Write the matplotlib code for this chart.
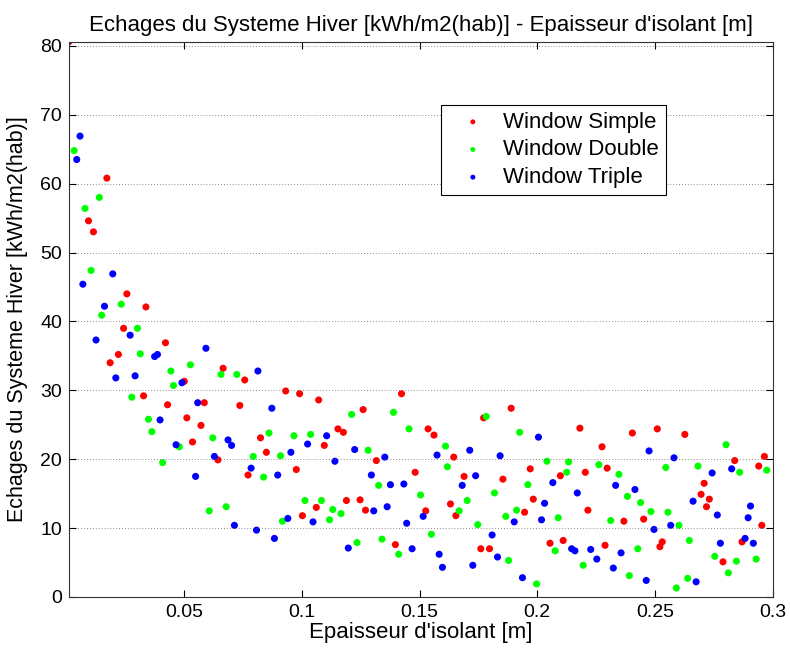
import numpy as np
import matplotlib.pyplot as plt

plt.rcParams['font.family'] = ['Liberation Sans', 'DejaVu Sans']

# Window Simple
simple_x = [0.001, 0.0171, 0.0093, 0.0114, 0.0256, 0.0337, 0.0242, 0.0420, 0.0220, 0.0185,
            0.0665, 0.0757, 0.0500, 0.0327, 0.0429, 0.0585, 0.0736, 0.0511, 0.0571, 0.0824,
            0.0535, 0.0643, 0.0771, 0.0931, 0.0990, 0.1071, 0.1423, 0.1260, 0.1153, 0.1176,
            0.1536, 0.1095, 0.0849, 0.1316, 0.0976, 0.1481, 0.1189, 0.1247, 0.1061, 0.1270,
            0.1002, 0.1526, 0.1397, 0.1889, 0.1772, 0.2181, 0.1561, 0.2275, 0.1645, 0.2297,
            0.1970, 0.1689, 0.2098, 0.2204, 0.1854, 0.1983, 0.1631, 0.1654, 0.1946, 0.2215,
            0.1760, 0.1797, 0.2054, 0.2110, 0.2288, 0.2404, 0.2510, 0.2627, 0.2839, 0.2965,
            0.2941, 0.2709, 0.2696, 0.2731, 0.2719, 0.2368, 0.2452, 0.2954, 0.2531, 0.2521,
            0.2870, 0.2789]
simple_y = [80.6, 60.8, 54.6, 53.0, 44.0, 42.1, 39.0, 36.9, 35.2, 34.0,
            33.2, 31.5, 31.3, 29.2, 27.9, 28.2, 27.8, 26.0, 24.9, 23.1,
            22.5, 19.9, 17.7, 29.9, 29.5, 28.6, 29.5, 27.2, 24.4, 23.9,
            24.4, 22.0, 21.0, 19.8, 18.5, 18.1, 14.0, 14.1, 13.0, 12.6,
            11.8, 12.5, 7.6, 27.4, 26.0, 24.5, 23.5, 21.8, 20.3, 18.7,
            18.6, 17.5, 17.6, 18.1, 17.1, 14.2, 13.5, 11.8, 12.3, 12.6,
            7.0, 7.0, 7.8, 8.2, 7.5, 23.8, 24.4, 23.6, 19.8, 20.4,
            19.0, 16.5, 14.9, 14.2, 13.1, 11.0, 11.3, 10.4, 8.0, 7.3,
            8.0, 5.1]

# Window Double
double_x = [0.0032, 0.0139, 0.0078, 0.0104, 0.0232, 0.0149, 0.0301, 0.0313, 0.0526, 0.0443,
            0.0656, 0.0723, 0.0454, 0.0277, 0.0348, 0.0362, 0.0621, 0.0479, 0.0793, 0.0408,
            0.0606, 0.0678, 0.1211, 0.1389, 0.1455, 0.0860, 0.0966, 0.1037, 0.0909, 0.1281,
            0.0837, 0.1326, 0.1504, 0.1013, 0.1083, 0.1131, 0.1166, 0.0917, 0.1117, 0.1550,
            0.1234, 0.1340, 0.1411, 0.1783, 0.1925, 0.1610, 0.1618, 0.2041, 0.2133, 0.2262,
            0.2125, 0.1960, 0.1818, 0.1702, 0.1668, 0.1866, 0.1912, 0.2089, 0.1747, 0.1878,
            0.1997, 0.2076, 0.2195, 0.2802, 0.2546, 0.2683, 0.2860, 0.2975, 0.2347, 0.2383,
            0.2439, 0.2483, 0.2555, 0.2312, 0.2602, 0.2646, 0.2427, 0.2391, 0.2591, 0.2639,
            0.2754, 0.2846, 0.2812, 0.2930]
double_y = [64.8, 58.0, 56.4, 47.4, 42.5, 40.9, 39.0, 35.3, 33.7, 32.8,
            32.3, 32.3, 30.7, 29.0, 25.8, 24.0, 23.1, 21.8, 20.4, 19.5,
            12.5, 13.1, 26.5, 26.8, 24.4, 23.8, 23.4, 23.6, 20.5, 21.3,
            17.4, 16.2, 14.8, 14.0, 14.0, 12.7, 12.1, 11.0, 11.2, 9.1,
            7.9, 8.4, 6.2, 26.2, 23.9, 21.9, 18.9, 19.7, 19.6, 19.2,
            18.1, 16.3, 15.1, 14.0, 12.5, 11.7, 12.6, 11.5, 10.5, 5.3,
            1.9, 6.7, 4.6, 22.1, 18.8, 19.0, 18.1, 18.4, 17.8, 14.6,
            13.7, 12.4, 12.3, 11.1, 10.4, 8.2, 7.0, 3.1, 1.3, 2.7,
            5.9, 5.2, 3.5, 5.5]

# Window Triple
triple_x = [0.0057, 0.0043, 0.0196, 0.0069, 0.0161, 0.0270, 0.0125, 0.0592, 0.0374, 0.0386,
            0.0813, 0.0209, 0.0291, 0.0490, 0.0557, 0.0397, 0.0465, 0.0686, 0.0701, 0.0628,
            0.0784, 0.0548, 0.0713, 0.0807, 0.0872, 0.1105, 0.1024, 0.0953, 0.1224, 0.1140,
            0.1352, 0.0897, 0.1295, 0.1376, 0.1433, 0.1305, 0.1362, 0.0940, 0.1047, 0.1515,
            0.1445, 0.0883, 0.1197, 0.1468, 0.2005, 0.1713, 0.1574, 0.1842, 0.1738, 0.1681,
            0.2066, 0.2170, 0.2031, 0.1902, 0.2018, 0.1808, 0.1831, 0.1583, 0.1597, 0.1726,
            0.1937, 0.2146, 0.2160, 0.2227, 0.2253, 0.2475, 0.2581, 0.2826, 0.2743, 0.2333,
            0.2415, 0.2662, 0.2906, 0.2765, 0.2896, 0.2567, 0.2496, 0.2778, 0.2883, 0.2918,
            0.2356, 0.2323, 0.2463, 0.2675]
triple_y = [66.9, 63.5, 46.9, 45.4, 42.2, 38.0, 37.3, 36.1, 34.9, 35.2,
            32.8, 31.8, 32.1, 31.1, 28.2, 25.7, 22.1, 22.8, 22.0, 20.4,
            18.7, 17.5, 10.4, 9.7, 27.4, 23.4, 22.2, 21.0, 21.4, 19.7,
            20.3, 17.7, 17.7, 16.3, 16.4, 12.5, 13.1, 11.4, 10.9, 11.7,
            10.7, 8.5, 7.1, 7.0, 23.2, 21.3, 20.6, 20.5, 17.6, 16.2,
            16.6, 15.1, 13.6, 10.9, 11.2, 9.0, 5.8, 6.2, 4.3, 4.6,
            2.8, 7.0, 6.7, 6.9, 5.5, 21.2, 20.2, 18.6, 18.0, 16.2,
            15.6, 13.9, 13.2, 11.9, 11.5, 10.4, 9.8, 7.8, 8.5, 7.8,
            6.4, 4.2, 2.4, 2.2]

x_ticks = [0.05, 0.1, 0.15, 0.2, 0.25, 0.3]
x_tick_labels = ['0.05', '0.1', '0.15', '0.2', '0.25', '0.3']
y_ticks = [0, 10, 20, 30, 40, 50, 60, 70, 80]

fig = plt.figure(figsize=(7.9, 6.53), dpi=100)
ax = fig.add_axes([0.0873, 0.0858, 0.8907, 0.8503])

ax.scatter(simple_x, simple_y, s=26, c='#ff0000', edgecolors='none', label='Window Simple')
ax.scatter(double_x, double_y, s=26, c='#00ff00', edgecolors='none', label='Window Double')
ax.scatter(triple_x, triple_y, s=26, c='#0000ff', edgecolors='none', label='Window Triple')

ax.set_xlim(0.001, 0.3)
ax.set_ylim(0, max(simple_y))
ax.set_xticks(x_ticks)
ax.set_xticklabels(x_tick_labels)
ax.set_yticks(y_ticks)
ax.yaxis.grid(True, linestyle=(0, (1, 2.5)), color='#666666', linewidth=0.6)
ax.tick_params(direction='in', top=True, right=True, labelsize=14, length=5, width=0.8, pad=5)
for sp in ax.spines.values():
    sp.set_color('#333333')
    sp.set_linewidth(0.8)

ax.set_title("Echages du Systeme Hiver [kWh/m2(hab)] - Epaisseur d'isolant [m]", fontsize=16, pad=8)
ax.set_xlabel("Epaisseur d'isolant [m]", fontsize=16, labelpad=1)
ax.set_ylabel("Echages du Systeme Hiver [kWh/m2(hab)]", fontsize=15.5)
ax.yaxis.set_label_coords(-0.058, 0.5)

leg = ax.legend(loc='upper left', bbox_to_anchor=(0.529, 0.886), borderaxespad=0, fontsize=16,
                frameon=True, fancybox=False, edgecolor='black', framealpha=1,
                markerscale=0.7, handletextpad=0.25, borderpad=0.3, labelspacing=0.3,
                handlelength=2.25)
leg.get_frame().set_linewidth(0.8)

fig.savefig('out.png', dpi=100)
